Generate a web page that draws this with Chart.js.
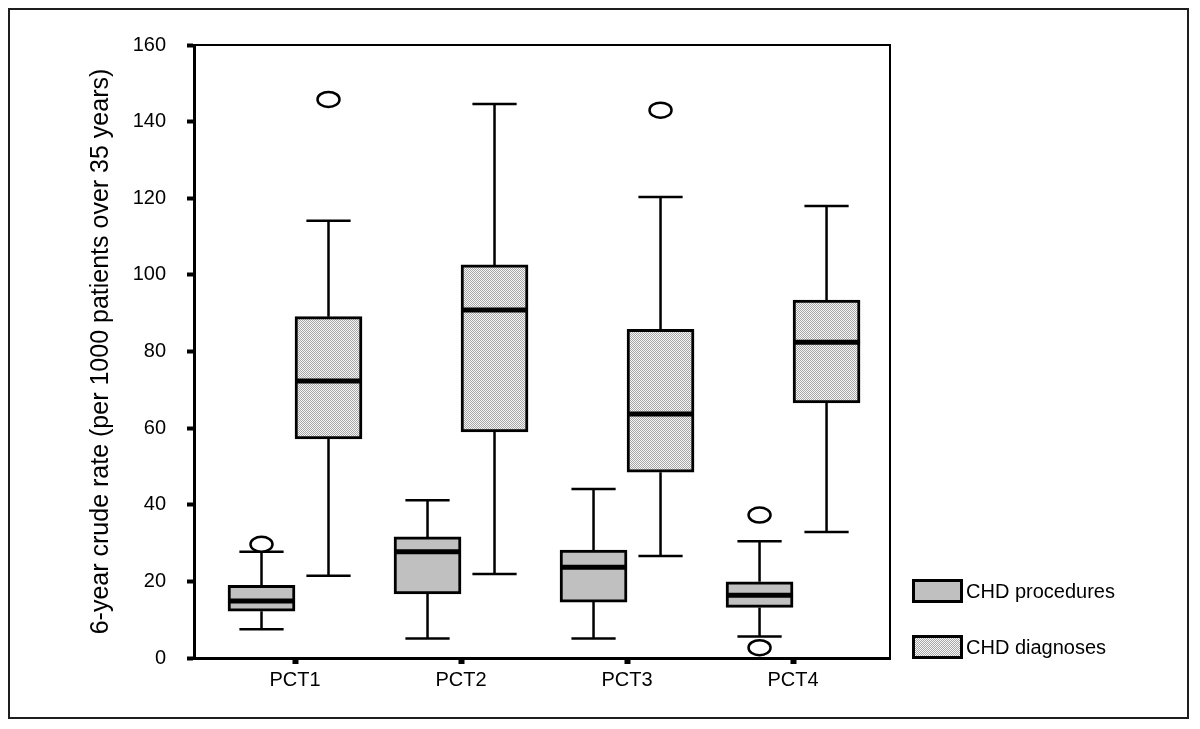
<!DOCTYPE html>
<html>
<head>
<meta charset="utf-8">
<script src="https://cdn.jsdelivr.net/npm/chart.js@4.4.1/dist/chart.umd.min.js"></script>
<style>
  html, body { margin: 0; padding: 0; background: #fff; }
  #wrap { position: relative; width: 1200px; height: 729px; }
  #frame { position: absolute; left: 8px; top: 8px; width: 1181px; height: 711px; box-sizing: border-box; border: 2px solid #1e1e1e; }
  canvas { position: absolute; left: 0; top: 0; }
  .legend-item { position: absolute; left: 912px; height: 24px; font: 20px "Liberation Sans", Arial, sans-serif; color: #000; display: flex; align-items: center; white-space: nowrap; }
  .legend-box { width: 51px; height: 24px; box-sizing: border-box; border: 3px solid #000; margin-right: 3px; }
</style>
</head>
<body>
<div id="wrap">
  <div id="frame"></div>
  <canvas id="chart" width="1200" height="729"></canvas>
  <div id="legend"></div>
</div>
<script>
const categories = ["PCT1", "PCT2", "PCT3", "PCT4"];
const seriesNames = ["CHD procedures", "CHD diagnoses"];
const yTitle = "6-year crude rate (per 1000 patients over 35 years)";

// CHD procedures
const procMin = [7.5, 5.1, 5.1, 5.6];
const procQ1 = [12.2, 16.7, 14.6, 13.2];
const procMed = [14.9, 27.7, 23.7, 16.4];
const procQ3 = [19.0, 31.6, 28.2, 19.9];
const procMax = [27.7, 41.2, 44.1, 30.5];
const procOut = [[29.7], [], [], [37.3, 2.7]];

// CHD diagnoses
const diagMin = [21.5, 21.9, 26.6, 32.9];
const diagQ1 = [57.2, 59.0, 48.5, 66.6];
const diagMed = [72.3, 90.8, 63.7, 82.4];
const diagQ3 = [89.1, 102.6, 85.8, 93.4];
const diagMax = [114.1, 144.6, 120.3, 118.0];
const diagOut = [[145.8], [], [143.0], []];

const series = [
  { min: procMin, q1: procQ1, med: procMed, q3: procQ3, max: procMax, out: procOut },
  { min: diagMin, q1: diagQ1, med: diagMed, q3: diagQ3, max: diagMax, out: diagOut },
];

function stipple() {
  const c = document.createElement("canvas");
  c.width = 2;
  c.height = 2;
  const g = c.getContext("2d");
  g.fillStyle = "#f6f6f6";
  g.fillRect(0, 0, 2, 2);
  g.fillStyle = "#a6a6a6";
  g.fillRect(0, 0, 1, 1);
  g.fillRect(1, 1, 1, 1);
  return c;
}

const ctx = document.getElementById("chart").getContext("2d");
const procFill = "#c0c0c0";
const diagFill = ctx.createPattern(stipple(), "repeat");

// whiskers, caps, medians, outliers and the top/right frame of the plot
const boxExtras = {
  id: "boxExtras",
  afterDatasetsDraw(chart) {
    const g = chart.ctx;
    const y = chart.scales.y;
    const area = chart.chartArea;
    g.save();
    g.strokeStyle = "#000";
    g.lineWidth = 2;
    g.beginPath();
    g.moveTo(area.left, area.top);
    g.lineTo(area.right, area.top);
    g.lineTo(area.right, area.bottom);
    g.stroke();

    series.forEach((s, d) => {
      const meta = chart.getDatasetMeta(d);
      meta.data.forEach((bar, i) => {
        const cx = bar.x;
        const half = bar.width / 2;
        const capHalf = bar.width * 0.33;
        const pMin = y.getPixelForValue(s.min[i]);
        const pMax = y.getPixelForValue(s.max[i]);
        g.lineWidth = 2.5;
        g.beginPath();
        g.moveTo(cx, y.getPixelForValue(s.q3[i]));
        g.lineTo(cx, pMax);
        g.moveTo(cx, y.getPixelForValue(s.q1[i]));
        g.lineTo(cx, pMin);
        g.moveTo(cx - capHalf, pMax);
        g.lineTo(cx + capHalf, pMax);
        g.moveTo(cx - capHalf, pMin);
        g.lineTo(cx + capHalf, pMin);
        g.stroke();

        g.lineWidth = 5;
        g.beginPath();
        const pMed = y.getPixelForValue(s.med[i]);
        g.moveTo(cx - half, pMed);
        g.lineTo(cx + half, pMed);
        g.stroke();

        s.out[i].forEach((v) => {
          g.lineWidth = 2.5;
          g.fillStyle = "#fff";
          g.beginPath();
          g.ellipse(cx, y.getPixelForValue(v), 11, 7.5, 0, 0, Math.PI * 2);
          g.fill();
          g.stroke();
        });
      });
    });
    g.restore();
  },
};

Chart.defaults.font.family = "'Liberation Sans', Arial, sans-serif";
Chart.defaults.color = "#000";

new Chart(ctx, {
  type: "bar",
  data: {
    datasets: [
      {
        label: seriesNames[0],
        data: categories.map((c, i) => ({ x: i + 1, y: [procQ1[i], procQ3[i]] })),
        backgroundColor: procFill,
      },
      {
        label: seriesNames[1],
        data: categories.map((c, i) => ({ x: i + 1, y: [diagQ1[i], diagQ3[i]] })),
        backgroundColor: diagFill,
      },
    ],
  },
  options: {
    responsive: false,
    animation: false,
    layout: { padding: { top: 45, right: 310, bottom: 0, left: 0 } },
    datasets: {
      bar: {
        barThickness: 67,
        borderWidth: 3,
        borderColor: "#000",
        borderSkipped: false,
      },
    },
    scales: {
      x: {
        type: "linear",
        min: 0.3916,
        max: 4.584,
        offset: false,
        grid: {
          offset: false,
          drawOnChartArea: false,
          tickLength: 6,
          tickWidth: 6,
          tickColor: "#000",
        },
        border: { display: true, width: 3, color: "#000" },
        ticks: {
          padding: 4,
          font: { size: 20 },
          autoSkip: false,
          maxRotation: 0,
          callback: (v) => categories[Math.round(v) - 1] || "",
        },
        afterBuildTicks: (scale) => {
          scale.ticks = categories.map((c, i) => ({ value: i + 1 }));
        },
        afterFit: (scale) => {
          scale.height = 71;
        },
      },
      y: {
        min: 0,
        max: 160,
        grid: {
          drawOnChartArea: false,
          tickLength: 7,
          tickWidth: 4,
          tickColor: "#000",
        },
        border: { display: true, width: 3, color: "#000" },
        ticks: { stepSize: 20, padding: 21, font: { size: 20 } },
        title: {
          display: true,
          text: yTitle,
          font: { size: 25 },
          padding: { top: 86, bottom: 0 },
        },
        afterFit: (scale) => {
          scale.width = 194;
        },
      },
    },
    plugins: {
      legend: { display: false },
      tooltip: { enabled: false },
    },
  },
  plugins: [boxExtras],
});

// legend on the right, level with the bottom of the plot
const legendTops = [579, 635];
const legendFills = [procFill, "url(" + stipple().toDataURL() + ")"];
const legendEl = document.getElementById("legend");
seriesNames.forEach((name, i) => {
  const item = document.createElement("div");
  item.className = "legend-item";
  item.style.top = legendTops[i] + "px";
  const box = document.createElement("span");
  box.className = "legend-box";
  box.style.background = legendFills[i];
  item.appendChild(box);
  item.appendChild(document.createTextNode(name));
  legendEl.appendChild(item);
});
</script>
</body>
</html>
